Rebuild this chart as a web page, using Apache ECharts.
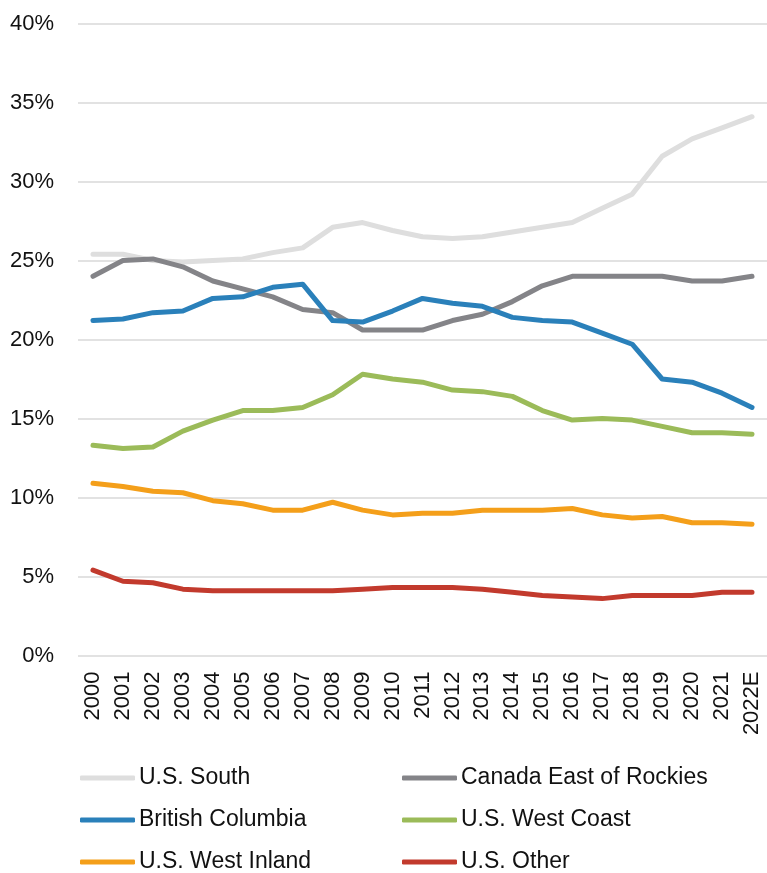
<!DOCTYPE html>
<html>
<head>
<meta charset="utf-8">
<script src="https://cdn.jsdelivr.net/npm/echarts@6/dist/echarts.min.js"></script>
<style>
  html, body { margin: 0; padding: 0; background: #fff; }
  #chart { width: 767px; height: 873px; }
</style>
</head>
<body>
<div id="chart"></div>
<script>
// ---------- data ----------
var years = ['2000', '2001', '2002', '2003', '2004', '2005', '2006', '2007', '2008', '2009', '2010',
    '2011', '2012', '2013', '2014', '2015', '2016', '2017', '2018', '2019', '2020', '2021', '2022E'];

var usSouth = [25.4, 25.4, 25.0, 24.9, 25.0, 25.1, 25.5, 25.8, 27.1, 27.4, 26.9,
    26.5, 26.4, 26.5, 26.8, 27.1, 27.4, 28.3, 29.2, 31.6, 32.7, 33.4, 34.1];
var canadaEast = [24.0, 25.0, 25.1, 24.6, 23.7, 23.2, 22.7, 21.9, 21.7, 20.6, 20.6,
    20.6, 21.2, 21.6, 22.4, 23.4, 24.0, 24.0, 24.0, 24.0, 23.7, 23.7, 24.0];
var britishColumbia = [21.2, 21.3, 21.7, 21.8, 22.6, 22.7, 23.3, 23.5, 21.2, 21.1, 21.8,
    22.6, 22.3, 22.1, 21.4, 21.2, 21.1, 20.4, 19.7, 17.5, 17.3, 16.6, 15.7];
var usWestCoast = [13.3, 13.1, 13.2, 14.2, 14.9, 15.5, 15.5, 15.7, 16.5, 17.8, 17.5,
    17.3, 16.8, 16.7, 16.4, 15.5, 14.9, 15.0, 14.9, 14.5, 14.1, 14.1, 14.0];
var usWestInland = [10.9, 10.7, 10.4, 10.3, 9.8, 9.6, 9.2, 9.2, 9.7, 9.2, 8.9,
    9.0, 9.0, 9.2, 9.2, 9.2, 9.3, 8.9, 8.7, 8.8, 8.4, 8.4, 8.3];
var usOther = [5.4, 4.7, 4.6, 4.2, 4.1, 4.1, 4.1, 4.1, 4.1, 4.2, 4.3,
    4.3, 4.3, 4.2, 4.0, 3.8, 3.7, 3.6, 3.8, 3.8, 3.8, 4.0, 4.0];

var yTicks = { min: 0, max: 40, step: 5 };

var seriesList = [
    { name: 'U.S. South', data: usSouth, color: '#dedede' },
    { name: 'Canada East of Rockies', data: canadaEast, color: '#848488' },
    { name: 'British Columbia', data: britishColumbia, color: '#2a80ba' },
    { name: 'U.S. West Coast', data: usWestCoast, color: '#9bbb59' },
    { name: 'U.S. West Inland', data: usWestInland, color: '#f49f1a' },
    { name: 'U.S. Other', data: usOther, color: '#c23a2d' }
];

var FONT = 'Liberation Sans, Arial, sans-serif';

// ---------- chart ----------
var chart = echarts.init(document.getElementById('chart'), null, { renderer: 'canvas' });

// legend: 2 columns x 3 rows, one legend per item so the columns line up
var legendCols = [80, 402];
var legendRows = [766, 808, 850];
var legends = seriesList.map(function (s, i) {
    return {
        left: legendCols[i % 2],
        top: legendRows[Math.floor(i / 2)],
        padding: 0,
        itemWidth: 55,
        itemHeight: 5,
        icon: 'roundRect',
        selectedMode: false,
        textStyle: { fontFamily: FONT, fontSize: 23, color: '#111', lineHeight: 24, padding: [0, 0, 0, -1] },
        data: [s.name]
    };
});

var option = {
    animation: false,
    backgroundColor: '#fff',
    legend: legends,
    grid: { left: 78, top: 23.5, width: 692, height: 632, containLabel: false },
    xAxis: {
        type: 'category',
        data: years,
        boundaryGap: true,
        axisLine: { show: false },
        axisTick: { show: false },
        axisLabel: {
            rotate: 90,
            margin: 16,
            interval: 0,
            fontFamily: FONT,
            fontSize: 22,
            color: '#111'
        }
    },
    yAxis: {
        type: 'value',
        min: yTicks.min,
        max: yTicks.max,
        interval: yTicks.step,
        axisLine: { show: false },
        axisTick: { show: false },
        splitLine: { lineStyle: { color: '#d9d9d9', width: 1.5 } },
        axisLabel: {
            margin: 24,
            fontFamily: FONT,
            fontSize: 22,
            color: '#111',
            formatter: '{value}%'
        }
    },
    series: seriesList.map(function (s) {
        return {
            name: s.name,
            type: 'line',
            data: s.data,
            showSymbol: false,
            symbol: 'none',
            color: s.color,
            lineStyle: { color: s.color, width: 5, cap: 'round', join: 'round' },
            itemStyle: { color: s.color }
        };
    })
};

chart.setOption(option);
</script>
</body>
</html>
